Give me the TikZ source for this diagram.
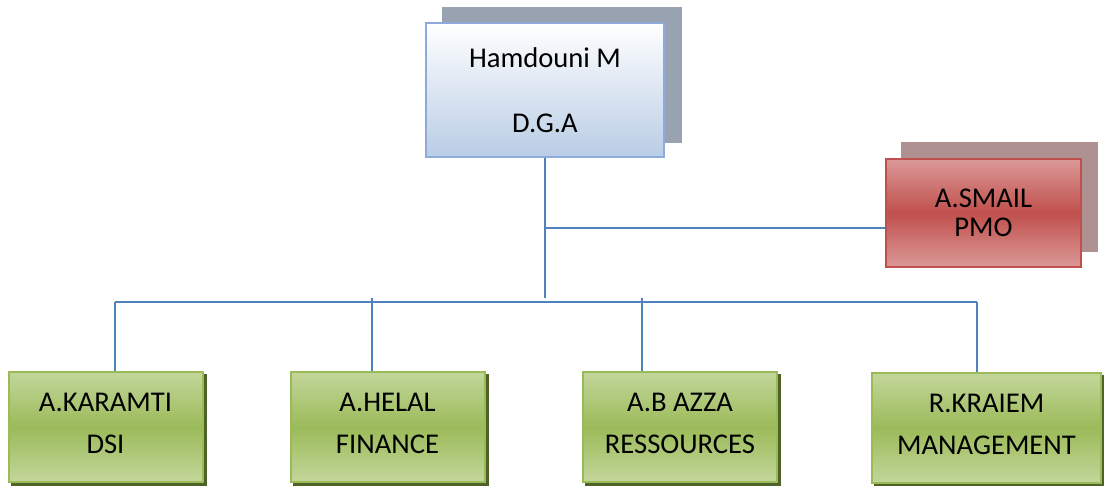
\documentclass[tikz,border=0pt]{standalone}
\usepackage{fontspec}
\setmainfont{Carlito}
\usetikzlibrary{positioning,backgrounds}
\definecolor{dgablue}{HTML}{B9CDE5}
\definecolor{dgaline}{HTML}{8EAADB}
\definecolor{dgashade}{HTML}{98A2B0}
\definecolor{pmolight}{HTML}{DB9997}
\definecolor{pmodark}{HTML}{C0504D}
\definecolor{pmoshade}{HTML}{AE9190}
\definecolor{dirlight}{HTML}{C3D69B}
\definecolor{dirdark}{HTML}{9BBB59}
\definecolor{dirshade}{HTML}{4F6228}
\definecolor{linkblue}{HTML}{4F81BD}
\tikzset{
  boxtext/.style={align=center, inner sep=0pt,
    font=\fontsize{14.3}{17.2}\selectfont},
  dgabox/.style={boxtext, draw=dgaline, line width=1pt,
    top color=white, bottom color=dgablue,
    minimum width=119pt, minimum height=67pt},
  pmobox/.style={boxtext, draw=pmodark, line width=1pt,
    top color=pmolight, bottom color=pmolight, middle color=pmodark,
    minimum width=97.5pt, minimum height=54pt},
  dirbox/.style={boxtext, draw=dirdark, line width=1pt,
    top color=dirlight, bottom color=dirlight, middle color=dirdark,
    minimum width=97pt, minimum height=55pt},
  link/.style={draw=linkblue, line width=1.2pt}
}
\begin{document}
\begin{tikzpicture}[x=0.5pt,y=-0.5pt]
        \useasboundingbox (0,0) rectangle (1104,486);
        % Boxes
        \node[dgabox] (dga) at (545,90) {Hamdouni M\\[15.3pt]D.G.A};
        \node[pmobox] (pmo) at (983.5,213) {A.SMAIL\\[-2.7pt]PMO};
        \node[dirbox] (karamti) at (105.5,427) {A.KARAMTI\\[3.8pt]DSI\\[-13.2pt]\mbox{}};
        \node[dirbox] (helal) at (387.5,427) {A.HELAL\\[3.8pt]FINANCE\\[-13.2pt]\mbox{}};
        \node[dirbox] (azza) at (680,427) {A.B AZZA\\[3.8pt]RESSOURCES\\[-13.2pt]\mbox{}};
        \node[dirbox, minimum width=114.5pt] (kraiem) at (986.5,428) {R.KRAIEM\\[3.8pt]MANAGEMENT\\[-13.2pt]\mbox{}};
        % Shadows
        \begin{scope}[on background layer]
          \fill[dgashade] ([shift={(17,-15)}]dga.south west) rectangle ([shift={(17,-15)}]dga.north east);
          \fill[pmoshade] ([shift={(16,-16)}]pmo.south west) rectangle ([shift={(16,-16)}]pmo.north east);
          \foreach \n in {karamti,helal,azza,kraiem}
            \fill[dirshade] ([shift={(3,3)}]\n.south west) rectangle ([shift={(3,3)}]\n.north east);
        \end{scope}
        % Links
        \coordinate (hub) at (545,298);
        \coordinate (side) at (545,228);
        \coordinate (b1) at (115,302);
        \coordinate (b2) at (372,298);
        \coordinate (b3) at (642,298);
        \coordinate (b4) at (977,302);
        \draw[link] (dga.south) -- (hub);
        \draw[link] (side) -- (side -| pmo.west);
        \draw[link] (b1) -- (b4);
        \draw[link] (b1) -- (b1 |- karamti.north);
        \draw[link] (b2) -- (b2 |- helal.north);
        \draw[link] (b3) -- (b3 |- azza.north);
        \draw[link] (b4) -- (b4 |- kraiem.north);
\end{tikzpicture}
\end{document}
